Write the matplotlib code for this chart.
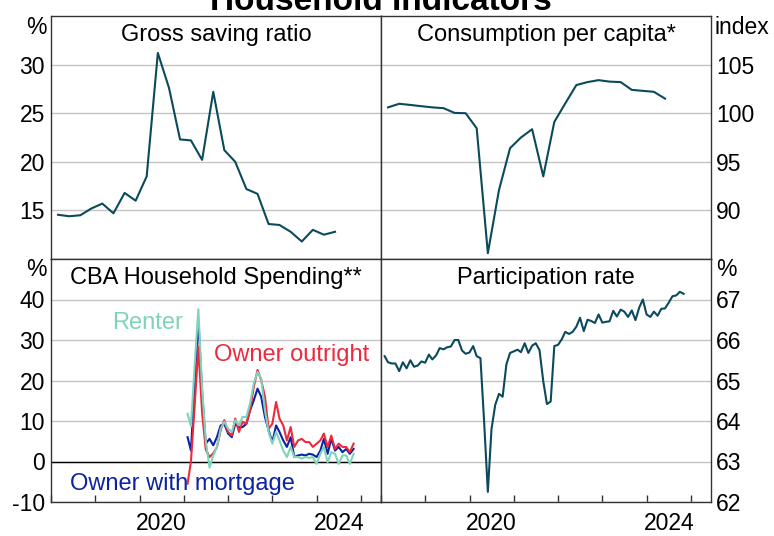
import matplotlib
matplotlib.use('Agg')
import matplotlib.pyplot as plt
import matplotlib.dates as mdates
from matplotlib.ticker import FixedLocator, FixedFormatter, NullFormatter
import pandas as pd
from datetime import datetime

plt.rcParams['font.family'] = ['Liberation Sans', 'DejaVu Sans']
plt.rcParams['axes.unicode_minus'] = False

# Quarterly series (2018 Q1 - 2024 Q2)
saving_ratio = [14.55, 14.4, 14.5, 15.2, 15.7, 14.7, 16.8, 16.0, 18.5, 31.2, 27.6, 22.3, 22.2,
                20.2, 27.2, 21.2, 20.0, 17.2, 16.7, 13.6, 13.5, 12.8, 11.8, 13.0, 12.5, 12.8]
consumption = [100.6, 100.97, 100.85, 100.72, 100.6, 100.52, 100.03, 100.0, 98.45, 85.6, 92.1,
               96.4, 97.5, 98.35, 93.5, 99.1, 101.0, 102.9, 103.2, 103.4, 103.25, 103.2, 102.4,
               102.3, 102.2, 101.5]

# Monthly participation rate (Jan 2018 onwards)
participation = [65.6, 65.45, 65.42, 65.42, 65.23, 65.45, 65.3, 65.5, 65.34, 65.37, 65.47, 65.44,
                 65.64, 65.52, 65.62, 65.8, 65.77, 65.82, 65.84, 66.0, 66.0, 65.74, 65.66, 65.69,
                 65.85, 65.6, 65.55, 64.0, 62.25, 63.8, 64.4, 64.67, 64.6, 65.4, 65.68, 65.72,
                 65.76, 65.7, 65.92, 65.68, 65.86, 65.92, 65.75, 64.98, 64.42, 64.48, 65.85, 65.88,
                 66.02, 66.2, 66.15, 66.2, 66.33, 66.55, 66.22, 66.5, 66.47, 66.42, 66.63, 66.43,
                 66.45, 66.46, 66.72, 66.58, 66.75, 66.7, 66.57, 66.73, 66.49, 66.8, 67.0, 66.63,
                 66.57, 66.7, 66.6, 66.77, 66.78, 66.92, 67.08, 67.1, 67.19, 67.14]

# CBA household spending, year-ended growth (Jan 2021 onwards)
renter = [11.8, 8.7, 24, 37.6, 18, 5.2, -1.5, 1.5, 3.6, 8.1, 9.8, 8.1, 7.3, 10.2, 8.9, 11, 11,
          14.3, 19.3, 22.1, 20.5, 12.6, 7.3, 4.4, 7.3, 5.2, 2.7, 1.1, 3.6, 1.1, 1.1, 0.7, 1.1,
          0.9, 1.1, -0.6, 1.9, 3.6, -0.2, 2.3, 1.9, -0.6, 1.5, 1.5, -0.6, 1.9]
outright = [-5.5, 0, 14, 28.3, 12, 3, 1.1, 2.0, 3.5, 7.7, 10.2, 7.3, 6.4, 10.6, 7.3, 9.8, 9.3,
            12.6, 18.4, 22.6, 20.1, 16, 8.1, 9.3, 14.7, 10.6, 8.9, 5.2, 8.5, 3.6, 5.2, 5.6, 4.8,
            4.8, 3.6, 4.4, 5.2, 6.9, 3.6, 6.4, 3.1, 4.4, 3.6, 3.6, 2.3, 4.4]
mortgage = [6.0, 2.7, 20, 35, 17, 4.4, 5.6, 4.0, 6.0, 8.9, 9.3, 6.9, 6.0, 9.3, 8.5, 8.5, 9.3,
            12.6, 15.1, 18.0, 16.0, 11.0, 7.7, 4.8, 8.9, 7.3, 5.2, 3.6, 6.0, 1.1, 1.5, 1.7, 1.5,
            1.9, 1.7, 1.1, 2.7, 5.6, 1.9, 5.6, 2.7, 3.6, 2.3, 3.1, 1.9, 3.1]

quarters = pd.date_range('2018-02-01', periods=len(saving_ratio), freq='3MS') + pd.offsets.MonthEnd(0)
months = pd.date_range('2018-01-01', periods=len(participation), freq='MS') + pd.offsets.MonthEnd(0)
cba_months = pd.date_range('2021-01-01', periods=len(renter), freq='MS') + pd.offsets.MonthEnd(0)

TEAL = '#0b4a5b'
MINT = '#7fd3ba'
RED = '#ec2a3c'
BLUE = '#0a22a3'
FRAME = '#333333'
GRID = '#c4c4c4'
FS = 16.5

fig = plt.figure(figsize=(7.74, 5.36), dpi=100)
W, H = 774, 536


def make_ax(x0, y0, x1, y1):
    return fig.add_axes([x0 / W, 1 - y1 / H, (x1 - x0) / W, (y1 - y0) / H])


ax_sav = make_ax(51, 16, 381, 259)
ax_con = make_ax(381, 16, 711, 259)
ax_cba = make_ax(51, 259, 381, 502)
ax_par = make_ax(381, 259, 711, 502)

xmin, xmax = datetime(2018, 1, 1), datetime(2025, 6, 14)


def style(ax, ylim, yticks, ylabels, right=False, bottom=False, title=''):
    ax.set_xlim(xmin, xmax)
    ax.set_ylim(*ylim)
    ax.set_yticks(yticks)
    ax.set_yticklabels(ylabels)
    ax.yaxis.grid(True, color=GRID, lw=1)
    ax.set_axisbelow(True)
    for s in ax.spines.values():
        s.set_color(FRAME)
        s.set_linewidth(1)
    if right:
        ax.yaxis.tick_right()
        ax.tick_params(axis='y', length=0, pad=3.5, labelsize=FS)
    else:
        ax.tick_params(axis='y', length=0, pad=4.3, labelsize=FS)
    if bottom:
        ax.xaxis.set_major_locator(mdates.YearLocator())
        ax.xaxis.set_major_formatter(NullFormatter())
        ax.xaxis.set_minor_locator(FixedLocator([mdates.date2num(datetime(2020, 7, 1)),
                                                 mdates.date2num(datetime(2024, 7, 1))]))
        ax.xaxis.set_minor_formatter(FixedFormatter(['2020', '2024']))
        ax.tick_params(axis='x', which='major', direction='in', length=5, width=1, color=FRAME)
        ax.tick_params(axis='x', which='minor', length=0, pad=7, labelsize=FS)
    else:
        ax.tick_params(axis='x', which='both', length=0, labelbottom=False)
    ax.text(0.5, 0.922, title, transform=ax.transAxes, ha='center', va='center', fontsize=17)


# Gross saving ratio
ax_sav.plot(quarters, saving_ratio, color=TEAL, lw=1.5)
style(ax_sav, (10, 35), [15, 20, 25, 30], ['15', '20', '25', '30'], title='Gross saving ratio')

# Consumption per capita
ax_con.plot(quarters, consumption, color=TEAL, lw=1.5)
style(ax_con, (85, 110), [90, 95, 100, 105], ['90', '95', '100', '105'], right=True,
      title='Consumption per capita*')

# CBA household spending
ax_cba.axhline(0, color='black', lw=1, zorder=1.5)
ax_cba.plot(cba_months, mortgage, color=BLUE, lw=1.5)
ax_cba.plot(cba_months, outright, color=RED, lw=1.5)
ax_cba.plot(cba_months, renter, color=MINT, lw=1.5)
style(ax_cba, (-10, 50), [-10, 0, 10, 20, 30, 40], ['-10', '0', '10', '20', '30', '40'],
      bottom=True, title='CBA Household Spending**')
ax_cba.text(datetime(2020, 3, 10), 34.2, 'Renter', color=MINT, fontsize=17, ha='center', va='center')
ax_cba.text(datetime(2023, 6, 10), 26.3, 'Owner outright', color=RED, fontsize=17, ha='center', va='center')
ax_cba.text(datetime(2020, 12, 20), -5.5, 'Owner with mortgage', color=BLUE, fontsize=17,
            ha='center', va='center')

# Participation rate
ax_par.plot(months, participation, color=TEAL, lw=1.5)
style(ax_par, (62, 68), [62, 63, 64, 65, 66, 67], ['62', '63', '64', '65', '66', '67'],
      right=True, bottom=True, title='Participation rate')

# Units
fig.text(47 / W, 1 - 28 / H, '%', ha='right', va='center', fontsize=FS)
fig.text(715 / W, 1 - 28 / H, 'index', ha='left', va='center', fontsize=FS)
fig.text(47 / W, 1 - 270 / H, '%', ha='right', va='center', fontsize=FS)
fig.text(716 / W, 1 - 270 / H, '%', ha='left', va='center', fontsize=FS)

fig.text(381 / W, 1 - 10 / H, 'Household Indicators', ha='center', va='baseline',
         fontsize=24, fontweight='bold')

fig.savefig('out.png', dpi=100)
